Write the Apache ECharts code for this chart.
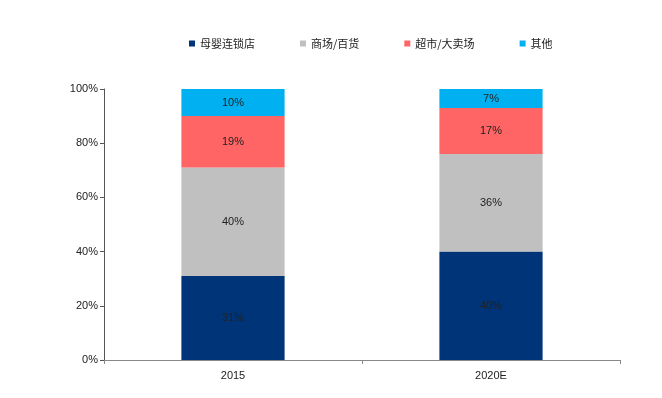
<!DOCTYPE html>
<html>
<head>
<meta charset="utf-8">
<script src="https://cdn.jsdelivr.net/npm/echarts@6/dist/echarts.min.js"></script>
<style>
  html, body { margin: 0; padding: 0; background: #fff; }
  #chart { width: 662px; height: 398px; }
</style>
</head>
<body>
<div id="chart"></div>
<script>
const categories = ['2015', '2020E'];
const seriesNames = ['母婴连锁店', '商场/百货', '超市/大卖场', '其他'];
const chainStores = [31, 40];
const malls = [40, 36];
const supermarkets = [19, 17];
const others = [10, 7];
const yTicks = [0, 20, 40, 60, 80, 100];

const colors = ['#003478', '#c0c0c0', '#ff6565', '#00b0f0'];
const narrow = '"Liberation Sans Narrow", "Arial Narrow", "Liberation Sans", sans-serif';

let myChart = echarts.init(document.getElementById('chart'));

function makeSeries(name, data, color) {
  return {
    name: name,
    type: 'bar',
    stack: 'total',
    data: data,
    barWidth: '40%',
    itemStyle: { color: color },
    label: {
      show: true,
      position: 'inside',
      formatter: '{c}%',
      color: '#222',
      fontSize: 11,
      fontFamily: narrow
    }
  };
}

myChart.setOption({
  animation: false,
  grid: {
    left: 104,
    right: 42,
    top: 89,
    bottom: 38
  },
  legend: {
    top: 33,
    left: 184,
    itemWidth: 6,
    itemHeight: 6,
    itemGap: 45,
    icon: 'rect',
    data: seriesNames,
    textStyle: {
      color: '#222',
      fontSize: 11,
      fontFamily: '"Noto Sans CJK SC", sans-serif'
    }
  },
  xAxis: {
    type: 'category',
    data: categories,
    axisLine: { lineStyle: { color: '#888', width: 1 } },
    axisTick: { show: true, length: 4, lineStyle: { color: '#888' } },
    axisLabel: {
      color: '#222',
      fontSize: 11,
      fontFamily: narrow,
      margin: 10
    }
  },
  yAxis: {
    type: 'value',
    min: 0,
    max: 100,
    interval: 20,
    splitLine: { show: false },
    axisLine: { show: true, lineStyle: { color: '#555', width: 1 } },
    axisTick: { show: true, length: 4, lineStyle: { color: '#555' } },
    axisLabel: {
      color: '#222',
      fontSize: 11,
      fontFamily: narrow,
      margin: 6,
      formatter: function (v) { return yTicks.indexOf(v) >= 0 ? v + '%' : ''; }
    }
  },
  series: [
    makeSeries(seriesNames[0], chainStores, colors[0]),
    makeSeries(seriesNames[1], malls, colors[1]),
    makeSeries(seriesNames[2], supermarkets, colors[2]),
    makeSeries(seriesNames[3], others, colors[3])
  ]
});
</script>
</body>
</html>
